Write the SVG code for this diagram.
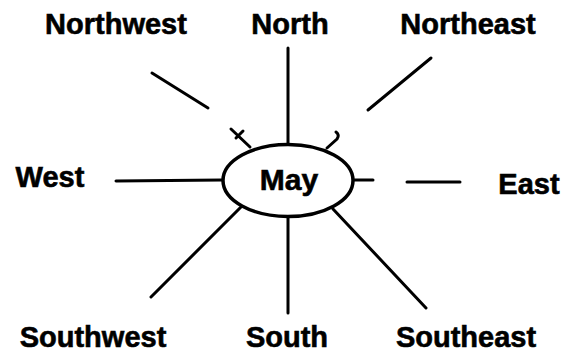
<svg xmlns="http://www.w3.org/2000/svg" width="570" height="362" viewBox="0 0 570 362">
  <style>
    .lbl { font-family: "Liberation Sans", Arial, sans-serif; font-weight: bold; font-size: 29px; fill: #000; stroke: #000; stroke-width: 0.6; text-anchor: middle; }
    .ln { stroke: #000; stroke-width: 3; stroke-linecap: round; fill: none; }
  </style>
  <rect width="570" height="362" fill="#fff"/>
  <g id="connectors">
    <line class="ln" x1="288" y1="48" x2="288" y2="143"/>
    <line class="ln" x1="152" y1="73" x2="208" y2="108"/>
    <path class="ln" d="M231 129 L250 147 M236 138 L243 131"/>
    <line class="ln" x1="368" y1="110" x2="431" y2="58"/>
    <path class="ln" d="M327 148 L337 139 Q340 135 336 132"/>
    <line class="ln" x1="116" y1="181" x2="222" y2="180"/>
    <line class="ln" x1="354" y1="180" x2="373" y2="180"/>
    <line class="ln" x1="407" y1="182" x2="460" y2="182"/>
    <line class="ln" x1="242" y1="206" x2="151" y2="297"/>
    <line class="ln" x1="288" y1="217" x2="288" y2="313"/>
    <line class="ln" x1="333" y1="209" x2="426" y2="308"/>
  </g>
  <g id="may">
    <ellipse cx="288" cy="180.5" rx="65" ry="36" fill="#fff" stroke="#000" stroke-width="3.5"/>
    <text class="lbl" x="289" y="190" style="font-size:30px">May</text>
  </g>
  <g id="northwest"><text class="lbl" x="116" y="34">Northwest</text></g>
  <g id="north"><text class="lbl" x="290" y="34">North</text></g>
  <g id="northeast"><text class="lbl" x="468" y="34">Northeast</text></g>
  <g id="west"><text class="lbl" x="50" y="187">West</text></g>
  <g id="east"><text class="lbl" x="529" y="194">East</text></g>
  <g id="southwest"><text class="lbl" x="93" y="347">Southwest</text></g>
  <g id="south"><text class="lbl" x="287" y="347">South</text></g>
  <g id="southeast"><text class="lbl" x="466" y="347">Southeast</text></g>
</svg>
